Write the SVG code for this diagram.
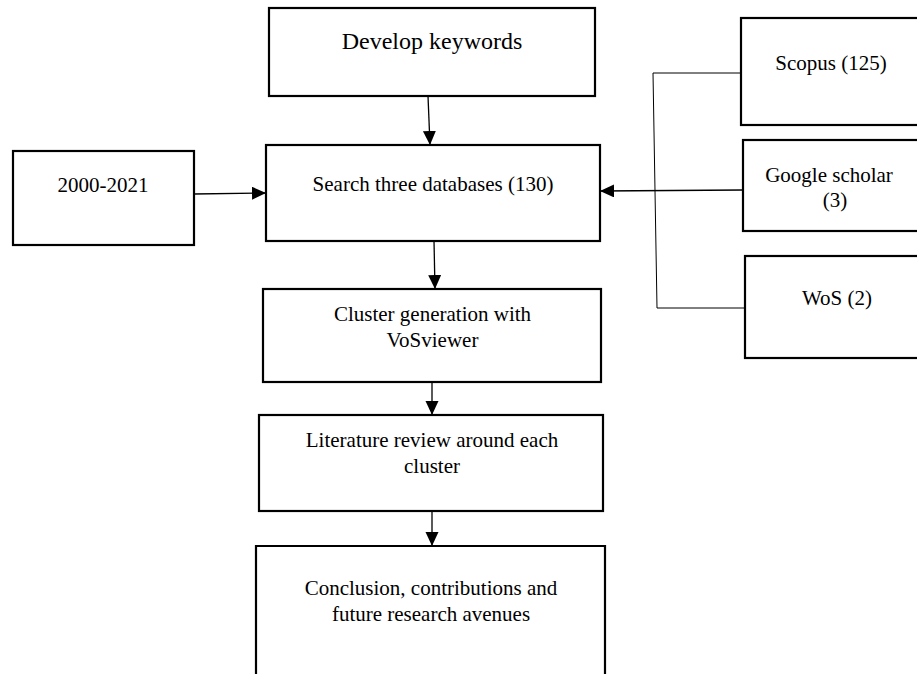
<svg xmlns="http://www.w3.org/2000/svg" width="917" height="674" viewBox="0 0 917 674">
<style>
.box{fill:#fff;stroke:#000;stroke-width:2.2}
.t{font-family:"Liberation Serif","Times New Roman",serif;font-size:21px;fill:#000;text-anchor:middle}
.ln{fill:none;stroke:#000;stroke-width:1.3}
.br{fill:none;stroke:#000;stroke-width:1}
</style>
<defs>
<marker id="ah" markerUnits="userSpaceOnUse" markerWidth="16" markerHeight="14" refX="14" refY="6.5" orient="auto">
<polygon points="0,0 14,6.5 0,13" fill="#000"/>
</marker>
</defs>
<rect width="917" height="674" fill="#fff"/>
<g id="connectors">
<line class="ln" x1="428" y1="96" x2="430" y2="145" marker-end="url(#ah)"/>
<line class="ln" x1="194" y1="194" x2="266" y2="193" marker-end="url(#ah)"/>
<line class="ln" x1="434" y1="241" x2="435" y2="289" marker-end="url(#ah)"/>
<line class="ln" x1="432" y1="382" x2="432" y2="415" marker-end="url(#ah)"/>
<line class="ln" x1="432" y1="511" x2="432" y2="546" marker-end="url(#ah)"/>
<line class="ln" x1="743" y1="190" x2="600" y2="191" marker-end="url(#ah)"/>
<polyline class="br" points="741,73 653,73 657,308 745,308"/>
</g>
<g id="develop">
<rect class="box" x="269" y="8" width="326" height="88"/>
<text class="t" x="432" y="49" style="font-size:24px">Develop keywords</text>
</g>
<g id="years">
<rect class="box" x="13" y="151" width="181" height="94"/>
<text class="t" x="103" y="192">2000-2021</text>
</g>
<g id="search">
<rect class="box" x="266" y="145" width="334" height="96"/>
<text class="t" x="433" y="191">Search three databases (130)</text>
</g>
<g id="cluster">
<rect class="box" x="263" y="289" width="338" height="93"/>
<text class="t" x="432.5" y="321">Cluster generation with</text>
<text class="t" x="432.5" y="347">VoSviewer</text>
</g>
<g id="literature">
<rect class="box" x="259" y="415" width="344" height="96"/>
<text class="t" x="432" y="447">Literature review around each</text>
<text class="t" x="432" y="473">cluster</text>
</g>
<g id="conclusion">
<path class="box" d="M256,680 V546 H605 V680"/>
<text class="t" x="431" y="595">Conclusion, contributions and</text>
<text class="t" x="431" y="621">future research avenues</text>
</g>
<g id="scopus">
<rect class="box" x="741" y="18" width="190" height="107"/>
<text class="t" x="831" y="70">Scopus (125)</text>
</g>
<g id="google">
<rect class="box" x="743" y="140" width="190" height="91"/>
<text class="t" x="829" y="182">Google scholar</text>
<text class="t" x="835" y="207">(3)</text>
</g>
<g id="wos">
<rect class="box" x="745" y="256" width="190" height="102"/>
<text class="t" x="837" y="305">WoS (2)</text>
</g>
</svg>
